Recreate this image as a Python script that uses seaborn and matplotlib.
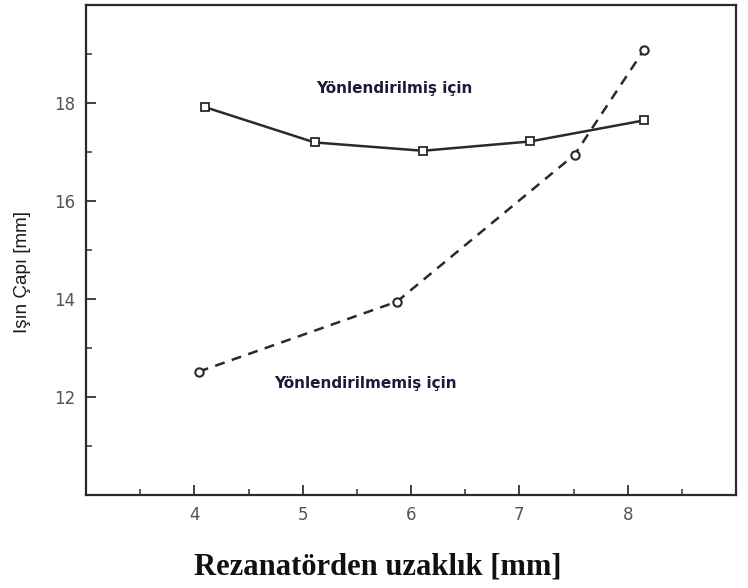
import matplotlib
matplotlib.use("Agg")
import matplotlib.pyplot as plt
import seaborn as sns
import pandas as pd
from matplotlib.ticker import MultipleLocator
from matplotlib import font_manager

# Data
x_yonlendirilmis = [4.10, 5.11, 6.11, 7.10, 8.15]
y_yonlendirilmis = [17.92, 17.2, 17.03, 17.22, 17.65]
x_yonlendirilmemis = [4.04, 5.87, 7.51, 8.15]
y_yonlendirilmemis = [12.52, 13.95, 16.95, 19.09]
x_ticks = [4, 5, 6, 7, 8]
y_ticks = [12, 14, 16, 18]
label_dir = "Yönlendirilmiş için"
label_nodir = "Yönlendirilmemiş için"

sns.set_theme(style="white")
plt.rcParams['font.family'] = ['DejaVu Sans']

names = {f.name for f in font_manager.fontManager.ttflist}
narrow = "Liberation Sans Narrow" if "Liberation Sans Narrow" in names else "Liberation Sans"

df1 = pd.DataFrame({"x": x_yonlendirilmis, "y": y_yonlendirilmis})
df2 = pd.DataFrame({"x": x_yonlendirilmemis, "y": y_yonlendirilmemis})

fig = plt.figure(figsize=(7.48, 5.88), dpi=100)
ax = fig.add_axes([0.115, 0.158, 0.869, 0.833])

sns.lineplot(data=df1, x="x", y="y", ax=ax, color="#2a2a2a", linewidth=1.8,
             marker="s", markersize=6, markerfacecolor="white",
             markeredgecolor="#2a2a2a", markeredgewidth=1.3, sort=False)
sns.lineplot(data=df2, x="x", y="y", ax=ax, color="#2a2a2a", linewidth=1.8,
             linestyle=(0, (4, 3)), marker="o", markersize=6,
             markerfacecolor="white", markeredgecolor="#2a2a2a",
             markeredgewidth=1.5, sort=False)

ax.set_xlim(3, 9)
ax.set_ylim(10, 20)
ax.set_xticks(x_ticks)
ax.set_yticks(y_ticks)
ax.xaxis.set_minor_locator(MultipleLocator(0.5))
ax.yaxis.set_minor_locator(MultipleLocator(1))
ax.tick_params(axis="both", which="major", direction="in", length=7, width=1.3,
               color="#333333", labelsize=12, labelcolor="#555555", pad=8)
ax.tick_params(axis="both", which="minor", direction="in", length=4, width=1.1,
               color="#333333")
ax.tick_params(bottom=True, left=True, which="both")
ax.set_xticklabels([str(v) for v in x_ticks])
ax.set_yticklabels([str(v) for v in y_ticks])

for s in ax.spines.values():
    s.set_visible(True)
    s.set_color("#2a2a2a")
    s.set_linewidth(1.6)

ax.set_xlabel("")
ax.set_ylabel("")
fig.text(0.505, 0.036, "Rezanatörden uzaklık [mm]", ha="center", va="center",
         fontsize=22, fontweight="bold", family="Liberation Serif", color="#111111")
fig.text(0.03, 0.537, "Işın Çapı [mm]", ha="center", va="center", rotation=90,
         fontsize=13.5, family=narrow, color="#1a1a1a")

ax.text(5.85, 18.3, label_dir, ha="center", va="center", fontsize=11,
        fontweight="bold", color="#1a1a3a")
ax.text(5.58, 12.28, label_nodir, ha="center", va="center", fontsize=11,
        fontweight="bold", color="#1a1a3a")

fig.savefig("out.png", dpi=100)
